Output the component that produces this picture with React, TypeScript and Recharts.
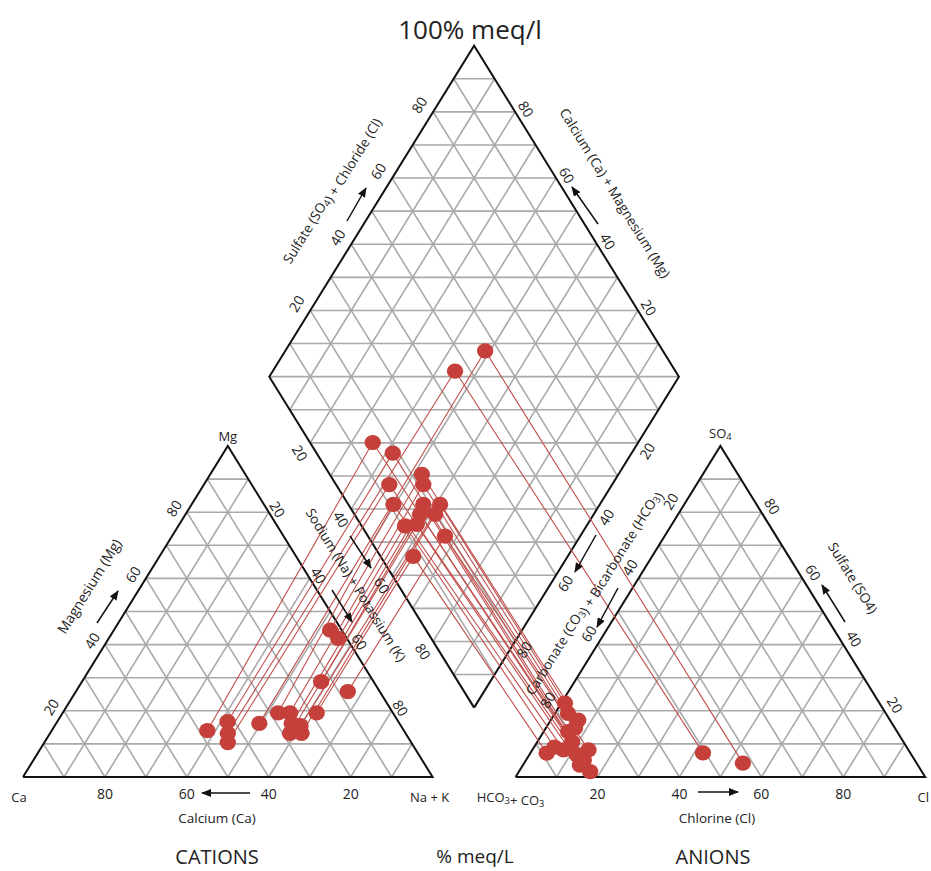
import React from 'react';
import { ScatterChart, Scatter, XAxis, YAxis } from 'recharts';

const W = 931;
const H = 871;

// ---- Data (percent of meq/L) ----
const sampleIds = ['S1', 'S2', 'S3', 'S4', 'S5', 'S6', 'S7', 'S8', 'S9', 'S10', 'S11', 'S12', 'S13', 'S14', 'S15', 'S16'];
// cation triangle
const cationNaK = [38, 41.6, 43.4, 44.8, 49.6, 52.6, 52.8, 55.5, 56, 57.5, 58.4, 58.6, 60, 61.4, 62, 66.4];
const cationMg = [14, 16.7, 13.2, 10.4, 16.2, 19.4, 44.4, 19.4, 41.9, 16.2, 28.8, 13.2, 15.5, 13.2, 19.4, 25.8];
// central diamond
const diamondNaK = [35.2, 41.7, 44.5, 45.6, 48.8, 49.6, 52, 53.9, 55.7, 56.9, 57.6, 58.3, 61, 61.3, 62.3, 67];
const diamondSO4Cl = [15.3, 18.6, 46.2, 13, 56.6, 11, 22.5, 21.3, 10.6, 18.3, 16, 13.7, 22.4, 19.7, 8, 18.8];
// anion triangle
const anionCl = [17.4, 6, 42.1, 13.9, 53.4, 7.6, 6.7, 3.2, 5, 14.1, 8.5, 11.6, 0.9, 7.1, 4, 13.7];
const anionSO4 = [1.6, 13.7, 7.3, 3.6, 4.2, 8.2, 17.2, 19.2, 9, 5.1, 10.6, 6.7, 22.3, 14.8, 7.2, 8.2];

const gridSteps = [10, 20, 30, 40, 50, 60, 70, 80, 90];
const tickValues = [20, 40, 60, 80];

// ---- Geometry (data units: triangle side = 100) ----
const S = Math.sqrt(3) / 2;
const GAP = 20.26;
const LIFT = 0.6;
const BX = 100 + GAP / 2;
const BY = GAP * S + LIFT;

const X0 = 23, KX = 4.096, Y0 = 777, KY = 3.822;
const X_DOMAIN: [number, number] = [-X0 / KX, (W - X0) / KX];
const Y_DOMAIN: [number, number] = [(Y0 - H) / KY, Y0 / KY];

type P = { x: number; y: number };
const cat = (na: number, mg: number): P => ({ x: na + mg / 2, y: mg * S });
const ani = (cl: number, so4: number): P => ({ x: 100 + GAP + cl + so4 / 2, y: so4 * S });
const dia = (na: number, sc: number): P => ({ x: BX - (100 - na) / 2 + sc / 2, y: BY + (100 - na + sc) * S });
const px = (p: P) => ({ x: X0 + p.x * KX, y: Y0 - p.y * KY });
const ANG = (Math.atan2(S * 100 * KY, 50 * KX) * 180) / Math.PI;

// grid segments
const gridSegs: P[][] = [];
gridSteps.forEach((t) => {
  gridSegs.push([cat(0, t), cat(100 - t, t)]);
  gridSegs.push([cat(t, 0), cat(t, 100 - t)]);
  gridSegs.push([cat(100 - t, 0), cat(0, 100 - t)]);
  gridSegs.push([ani(0, t), ani(100 - t, t)]);
  gridSegs.push([ani(t, 0), ani(t, 100 - t)]);
  gridSegs.push([ani(100 - t, 0), ani(0, 100 - t)]);
  gridSegs.push([dia(t, 0), dia(t, 100)]);
  gridSegs.push([dia(0, t), dia(100, t)]);
});
for (let k = 1; k <= 19; k++) {
  const L = k * 10;
  if (L <= 100) gridSegs.push([dia(100 - L, 0), dia(100, L)]);
  else gridSegs.push([dia(0, L - 100), dia(200 - L, 100)]);
}

const outlines: P[][] = [
  [cat(0, 0), cat(100, 0), cat(0, 100), cat(0, 0)],
  [ani(0, 0), ani(100, 0), ani(0, 100), ani(0, 0)],
  [dia(100, 0), dia(0, 0), dia(0, 100), dia(100, 100), dia(100, 0)],
];

const samplePaths: P[][] = sampleIds.map((_, i) => [
  cat(cationNaK[i], cationMg[i]),
  dia(diamondNaK[i], diamondSO4Cl[i]),
  ani(anionCl[i], anionSO4[i]),
]);
const allPoints: P[] = samplePaths.flat();

const noShape = () => <g />;
const dot = (p: any) => <ellipse cx={p.cx} cy={p.cy} rx={8.2} ry={7.6} fill="#C5403B" />;

const FONT = '"Open Sans", "Noto Sans", sans-serif';
const TXT = '#222';

function Lbl({ p, dx = 0, dy = 0, rot = 0, size = 14, children, anchor = 'middle' }: any) {
  const q = px(p);
  const x = q.x + dx;
  const y = q.y + dy;
  return (
    <text x={x} y={y} transform={rot ? `rotate(${rot} ${x} ${y})` : undefined} textAnchor={anchor}
      dominantBaseline="central" fontSize={size} fontFamily={FONT} fill={TXT}>
      {children}
    </text>
  );
}

function T({ x, y, rot = 0, size = 14, children, anchor = 'middle' }: any) {
  return (
    <text x={x} y={y} transform={rot ? `rotate(${rot} ${x} ${y})` : undefined} textAnchor={anchor}
      dominantBaseline="central" fontSize={size} fontFamily={FONT} fill={TXT}>
      {children}
    </text>
  );
}

const Sub = ({ c }: { c: string }) => (
  <>
    <tspan fontSize="0.72em" dy={3}>{c}</tspan>
    <tspan dy={-3}>{''}</tspan>
  </>
);

function Arrow({ x1, y1, x2, y2 }: any) {
  return <line x1={x1} y1={y1} x2={x2} y2={y2} stroke="#111" strokeWidth={1.5} markerEnd="url(#ah)" />;
}

export default function App() {
  return (
    <div style={{ position: 'absolute', left: 0, top: 0, width: W, height: H, background: '#fff' }}>
      <ScatterChart width={W} height={H} margin={{ top: 0, right: 0, bottom: 0, left: 0 }}>
        <XAxis type="number" dataKey="x" domain={X_DOMAIN} hide allowDataOverflow />
        <YAxis type="number" dataKey="y" domain={Y_DOMAIN} hide allowDataOverflow />
        {gridSegs.map((s, i) => (
          <Scatter key={'g' + i} data={s} line={{ stroke: '#a9a9a9', strokeWidth: 1.6 }} shape={noShape}
            isAnimationActive={false} legendType="none" />
        ))}
        {outlines.map((s, i) => (
          <Scatter key={'o' + i} data={s} line={{ stroke: '#111', strokeWidth: 2 }} shape={noShape}
            isAnimationActive={false} legendType="none" />
        ))}
        {samplePaths.map((s, i) => (
          <Scatter key={'s' + i} data={s} line={{ stroke: '#C0504D', strokeWidth: 1.1 }} shape={noShape}
            isAnimationActive={false} legendType="none" />
        ))}
        <Scatter data={allPoints} shape={dot} isAnimationActive={false} legendType="none" />
      </ScatterChart>
      <svg width={W} height={H} style={{ position: 'absolute', left: 0, top: 0, pointerEvents: 'none' }}>
        <defs>
          <marker id="ah" markerWidth="10" markerHeight="8" refX="9" refY="4" orient="auto" markerUnits="userSpaceOnUse">
            <path d="M0,0 L10,4 L0,8 z" fill="#111" />
          </marker>
        </defs>
        {/* title & footer */}
        <T x={470} y={29} size={26}>100% meq/l</T>
        <T x={217} y={856} size={20}>CATIONS</T>
        <T x={475} y={856} size={19}>% meq/L</T>
        <T x={713} y={856} size={20}>ANIONS</T>

        {/* cation triangle */}
        {tickValues.map((t) => <Lbl key={'ca' + t} p={cat(100 - t, 0)} dy={16}>{t}</Lbl>)}
        {tickValues.map((t) => <Lbl key={'mg' + t} p={cat(0, t)} dx={-13} dy={-4} rot={-ANG}>{t}</Lbl>)}
        {tickValues.map((t) => <Lbl key={'na' + t} p={cat(t, 100 - t)} dx={9} dy={-3} rot={ANG}>{t}</Lbl>)}
        <Lbl p={cat(0, 100)} dy={-10} size={13}>Mg</Lbl>
        <Lbl p={cat(0, 0)} dx={-4} dy={20} size={13}>Ca</Lbl>
        <Lbl p={cat(100, 0)} dx={-3} dy={20} size={13}>Na + K</Lbl>
        <T x={217} y={818} size={13.5}>Calcium (Ca)</T>
        <Arrow x1={250} y1={793} x2={202} y2={793} />
        <T x={89} y={586} rot={-ANG} size={14}>Magnesium (Mg)</T>
        <Arrow x1={97} y1={623} x2={118} y2={591} />
        <T x={356} y={585} rot={ANG} size={13.5}>Sodium (Na) + Potassium (K)</T>
        <Arrow x1={350} y1={536} x2={371} y2={568} />
        <Arrow x1={332} y1={590} x2={352} y2={622} />

        {/* diamond */}
        {tickValues.map((t) => <Lbl key={'dl' + t} p={dia(t, 0)} dx={-10} dy={10} rot={ANG}>{t}</Lbl>)}
        {tickValues.map((t) => <Lbl key={'du' + t} p={dia(0, t)} dx={-14} dy={-7} rot={-ANG}>{t}</Lbl>)}
        {tickValues.map((t) => <Lbl key={'dr' + t} p={dia(100 - t, 100)} dx={11} dy={-3} rot={ANG}>{t}</Lbl>)}
        {tickValues.map((t) => <Lbl key={'dd' + t} p={dia(100, 100 - t)} dx={9} dy={8} rot={-ANG}>{t}</Lbl>)}
        <T x={331} y={190} rot={-ANG} size={13.5}>
          Sulfate (SO<Sub c="4" />) + Chloride (Cl)
        </T>
        <Arrow x1={347} y1={221} x2={366} y2={188} />
        <T x={615} y={193} rot={ANG} size={13.5}>Calcium (Ca) + Magnesium (Mg)</T>
        <Arrow x1={598} y1={224} x2={572} y2={187} />
        <T x={592} y={592} rot={-ANG} size={13.5}>
          Carbonate (CO<Sub c="3" />) + Bicarbonate (HCO<Sub c="3" />)
        </T>
        <Arrow x1={596} y1={535} x2={575} y2={572} />
        <Arrow x1={618} y1={588} x2={597} y2={627} />

        {/* anion triangle */}
        {tickValues.map((t) => <Lbl key={'cl' + t} p={ani(t, 0)} dy={16}>{t}</Lbl>)}
        {tickValues.map((t) => <Lbl key={'hc' + t} p={ani(0, 100 - t)} dx={-9} dy={-11} rot={-ANG}>{t}</Lbl>)}
        {tickValues.map((t) => <Lbl key={'so' + t} p={ani(100 - t, t)} dx={11} dy={-6} rot={ANG}>{t}</Lbl>)}
        <Lbl p={ani(0, 100)} dy={-13} size={13}>
          SO<Sub c="4" />
        </Lbl>
        <Lbl p={ani(0, 0)} dx={-5} dy={20} size={13}>
          HCO<Sub c="3" />+ CO<Sub c="3" />
        </Lbl>
        <T x={929} y={797} size={13} anchor="end">Cl</T>
        <T x={717} y={818} size={13.5}>Chlorine (Cl)</T>
        <Arrow x1={698} y1={792} x2={738} y2={792} />
        <T x={853} y={578} rot={ANG} size={13.5}>Sulfate (SO4)</T>
        <Arrow x1={845} y1={622} x2={822} y2={585} />
      </svg>
    </div>
  );
}
